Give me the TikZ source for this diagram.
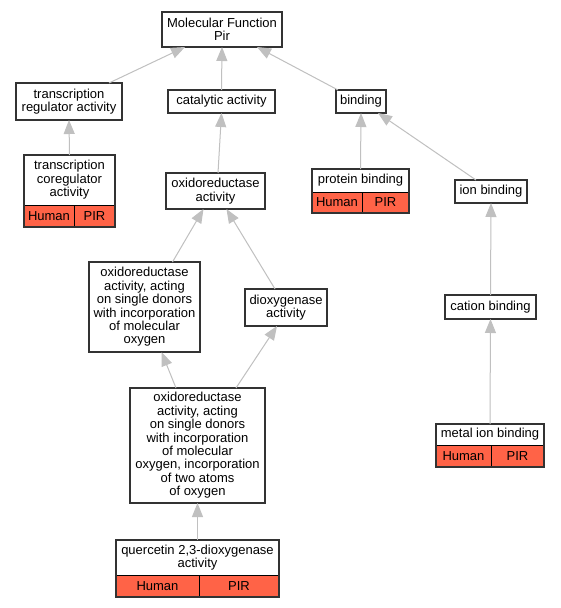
\documentclass[tikz,border=0pt]{standalone}
\usepackage{fontspec}
\setmainfont{Liberation Sans}
\usetikzlibrary{arrows.meta}
\definecolor{edgegray}{HTML}{C0C0C0}
\definecolor{framegray}{HTML}{333333}
\definecolor{tomatofill}{HTML}{FF6347}
\begin{document}
\begin{tikzpicture}[x=1pt,y=-1pt,
  font=\fontsize{13}{13.4}\selectfont,
  box/.style={draw=framegray, line width=1.3pt, fill=white, align=center, inner sep=1pt, outer sep=0pt},
  topbox/.style={fill=white, align=center, inner sep=1pt, outer sep=0pt},
  cell/.style={draw=black, line width=0.9pt, fill=tomatofill, inner sep=0pt, outer sep=0pt},
  frame/.style={draw=framegray, line width=1.3pt},
  edge/.style={draw=edgegray, line width=1pt, -{Triangle[length=14pt,width=11pt]}}]
\useasboundingbox (0,0) rectangle (560,608);
\fill[white] (0,0) rectangle (560,608);

% simple nodes
\node[box, minimum width=120pt, minimum height=35pt] (MF) at (222,29.5) {Molecular Function\\Pir};
\node[box, minimum width=106pt, minimum height=37pt] (TR) at (69,101.5) {transcription\\regulator activity};
\node[box, minimum width=107pt, minimum height=23pt] (CA) at (221.5,101.5) {catalytic activity};
\node[box, minimum width=50pt, minimum height=23pt] (BI) at (361,101.5) {binding};
\node[box, minimum width=99pt, minimum height=36pt] (OX) at (215.5,191) {oxidoreductase\\activity};
\node[box, minimum width=72pt, minimum height=23pt] (IB) at (491,191.5) {ion binding};
\node[box, minimum width=91pt, minimum height=24pt] (CB) at (490.5,307) {cation binding};
\node[box, minimum width=111pt, minimum height=90pt] (MO) at (144.5,307) {oxidoreductase\\activity, acting\\on single donors\\with incorporation\\of molecular\\oxygen};
\node[box, minimum width=82pt, minimum height=37pt] (DI) at (286,307.5) {dioxygenase\\activity};
\node[box, minimum width=135pt, minimum height=115pt] (BIG) at (197.5,445.5) {oxidoreductase\\activity, acting\\on single donors\\with incorporation\\of molecular\\oxygen, incorporation\\of two atoms\\of oxygen};

% composite nodes
\node[topbox, minimum width=91pt, minimum height=50pt, anchor=north] (TC) at (69.5,155) {transcription\\coregulator\\activity};
\node[cell, minimum width=50pt, minimum height=22pt, anchor=north west] (TCh) at (TC.south west) {Human};
\node[cell, minimum width=41pt, minimum height=22pt, anchor=north east] (TCp) at (TC.south east) {PIR};
\draw[frame] (TC.north west) rectangle (TCp.south east);

\node[topbox, minimum width=97pt, minimum height=23pt, anchor=north] (PB) at (360.5,169) {protein binding};
\node[cell, minimum width=50pt, minimum height=21pt, anchor=north west] (PBh) at (PB.south west) {Human};
\node[cell, minimum width=47pt, minimum height=21pt, anchor=north east] (PBp) at (PB.south east) {PIR};
\draw[frame] (PB.north west) rectangle (PBp.south east);

\node[topbox, minimum width=108pt, minimum height=21pt, anchor=north] (MI) at (490,424) {metal ion binding};
\node[cell, minimum width=55pt, minimum height=22pt, anchor=north west] (MIh) at (MI.south west) {Human};
\node[cell, minimum width=53pt, minimum height=22pt, anchor=north east] (MIp) at (MI.south east) {PIR};
\draw[frame] (MI.north west) rectangle (MIp.south east);

\node[topbox, minimum width=163pt, minimum height=35pt, anchor=north] (QU) at (197.5,540) {quercetin 2,3-dioxygenase\\activity};
\node[cell, minimum width=83pt, minimum height=22pt, anchor=north west] (QUh) at (QU.south west) {Human};
\node[cell, minimum width=80pt, minimum height=22pt, anchor=north east] (QUp) at (QU.south east) {PIR};
\draw[frame] (QU.north west) rectangle (QUp.south east);

% edges
\draw[edge] ([xshift=40pt]TR.north) -- ([xshift=-37pt]MF.south);
\draw[edge] (CA.north) -- (MF.south);
\draw[edge] ([xshift=-23pt]BI.north) -- ([xshift=35pt]MF.south);
\draw[edge] (TC.north) -- (TR.south);
\draw[edge] ([xshift=2.5pt]OX.north) -- ([xshift=0pt]CA.south);
\draw[edge] (PB.north) -- (BI.south);
\draw[edge] ([xshift=-15pt]IB.north) -- ([xshift=17pt]BI.south);
\draw[edge] (CB.north) -- (IB.south);
\draw[edge] (MI.north) -- (CB.south);
\draw[edge] ([xshift=28pt]MO.north) -- ([xshift=-12pt]OX.south);
\draw[edge] ([xshift=-11pt]DI.north) -- ([xshift=11pt]OX.south);
\draw[edge] ([xshift=-21.5pt]BIG.north) -- ([xshift=17pt]MO.south);
\draw[edge] ([xshift=38.5pt]BIG.north) -- ([xshift=-9pt]DI.south);
\draw[edge] (QU.north) -- (BIG.south);
\end{tikzpicture}
\end{document}
